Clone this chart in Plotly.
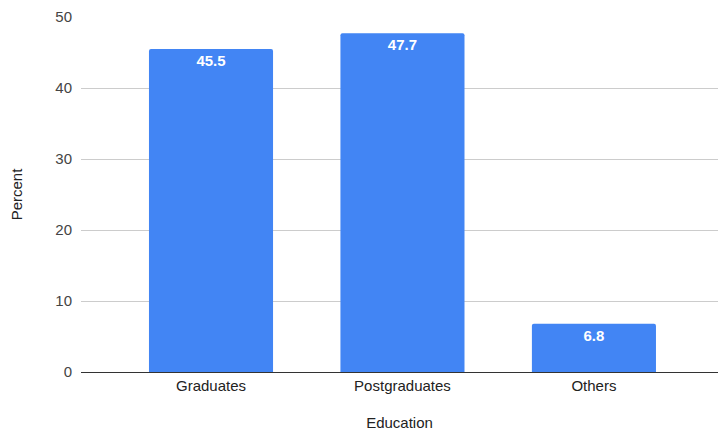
import plotly.graph_objects as go

categories = ["Graduates", "Postgraduates", "Others"]
percent = [45.5, 47.7, 6.8]
y_ticks = [0, 10, 20, 30, 40, 50]

FONT = "Liberation Sans, Arial, sans-serif"

fig = go.Figure(
    go.Bar(
        x=categories,
        y=percent,
        width=0.648,
        marker=dict(color="#4285F4", cornerradius=2, line=dict(width=0)),
        text=[f"{v:.1f}" for v in percent],
        textposition="inside",
        insidetextanchor="end",
        textangle=0,
        textfont=dict(family=FONT, size=15, color="white", weight="bold"),
        cliponaxis=False,
    )
)

fig.update_layout(
    width=718,
    height=435,
    margin=dict(l=81, r=0, t=17, b=63),
    paper_bgcolor="white",
    plot_bgcolor="white",
    showlegend=False,
    font=dict(family=FONT, size=15, color="#444444"),
    xaxis=dict(
        range=[-0.679, 2.648],
        showgrid=False,
        showline=False,
        ticks="",
        ticklabelstandoff=3,
        tickfont=dict(size=15, color="#222222"),
        title=dict(text="Education", font=dict(size=15, color="#222222"), standoff=24),
    ),
    yaxis=dict(
        range=[0, 50],
        tickvals=y_ticks,
        showgrid=True,
        gridcolor="#cccccc",
        gridwidth=1,
        zeroline=True,
        zerolinecolor="#333333",
        zerolinewidth=1,
        ticks="",
        ticklabelstandoff=8,
        tickfont=dict(size=15, color="#444444"),
        title=dict(text="Percent", font=dict(size=15, color="#222222"), standoff=29),
    ),
)

fig.write_html("out.html")
